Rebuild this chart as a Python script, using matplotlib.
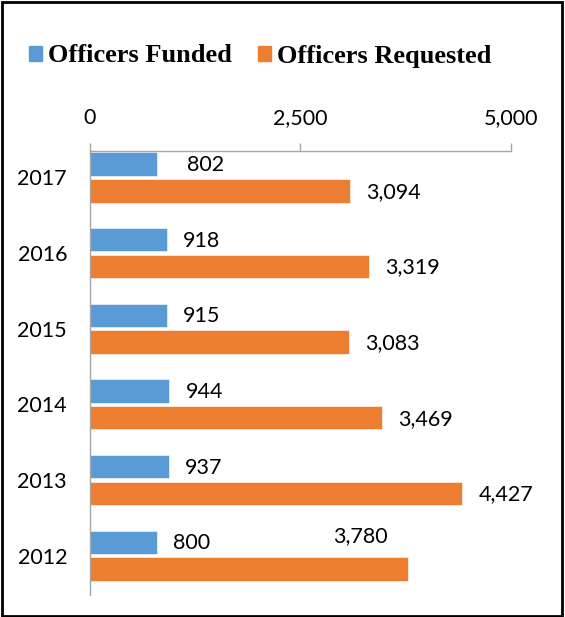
import matplotlib
matplotlib.use("Agg")
import matplotlib.pyplot as plt
import matplotlib.patches as mpatches
import matplotlib.ticker as tkr
import numpy as np

# data
years = ["2017", "2016", "2015", "2014", "2013", "2012"]
funded = [802, 918, 915, 944, 937, 800]
requested = [3094, 3319, 3083, 3469, 4427, 3780]
x_ticks = [0, 2500, 5000]

c_blue = "#5B9BD5"
c_orange = "#ED7D31"
c_axis = "#A6A6A6"
num_font = "Lato"

fig = plt.figure(figsize=(5.65, 6.17), dpi=100)
ax = fig.add_axes([0.1593, 0.0357, 0.7444, 0.7196])

y = np.arange(len(years))
bh = 0.31
off = 0.177
ax.barh(y - off, funded, height=bh, color=c_blue, edgecolor="white", linewidth=0.4)
ax.barh(y + off, requested, height=bh, color=c_orange, edgecolor="white", linewidth=0.4)

# data labels, excel style (a couple were nudged by hand in the original)
for i, v in enumerate(funded):
    dx = 30 if i == 0 else 16
    ax.annotate("{:,}".format(v), xy=(v, y[i] - off), xytext=(dx, -1),
                textcoords="offset pixels", ha="left", va="center",
                fontsize=15.5, family=num_font, color="black")
for i, v in enumerate(requested):
    if i == len(years) - 1:
        ax.annotate("{:,}".format(v), xy=(v, y[i] + off), xytext=(-48, 33),
                    textcoords="offset pixels", ha="center", va="center",
                    fontsize=15.5, family=num_font, color="black")
    else:
        ax.annotate("{:,}".format(v), xy=(v, y[i] + off), xytext=(16, -1),
                    textcoords="offset pixels", ha="left", va="center",
                    fontsize=15.5, family=num_font, color="black")

ax.set_xlim(0, 5000)
ax.set_ylim(5.52, -0.35)
ax.set_xticks(x_ticks)
ax.xaxis.set_major_formatter(tkr.FuncFormatter(lambda v, pos: "{:,}".format(int(v))))
ax.xaxis.tick_top()
ax.tick_params(axis="x", which="both", top=True, bottom=False, direction="out",
               length=5.8, width=1, color=c_axis, pad=11, labelsize=15.5)
ax.set_yticks(y)
ax.set_yticklabels(years)
ax.tick_params(axis="y", which="both", left=False, right=False, pad=13, labelsize=15.5)
for lab in ax.get_xticklabels() + ax.get_yticklabels():
    lab.set_family(num_font)

ax.spines["bottom"].set_visible(False)
ax.spines["right"].set_visible(False)
ax.spines["top"].set_color(c_axis)
ax.spines["left"].set_color(c_axis)
ax.spines["top"].set_linewidth(1)
ax.spines["left"].set_linewidth(1)

handles = [mpatches.Patch(color=c_blue, label="Officers Funded"),
           mpatches.Patch(color=c_orange, label="Officers Requested")]
leg = fig.legend(handles=handles, loc="center left", bbox_to_anchor=(29 / 565, 1 - 56 / 617),
                 ncol=2, frameon=False, handlelength=0.51, handleheight=0.51,
                 handletextpad=0.21, columnspacing=0.98, borderpad=0, borderaxespad=0,
                 prop={"family": "Liberation Serif", "weight": "bold", "size": 19})

# chart border
fig.patches.append(mpatches.Rectangle((0.004, 0.002), 0.991, 0.995, transform=fig.transFigure,
                                      fill=False, edgecolor="black", linewidth=2))

fig.savefig("out.png", dpi=100)
